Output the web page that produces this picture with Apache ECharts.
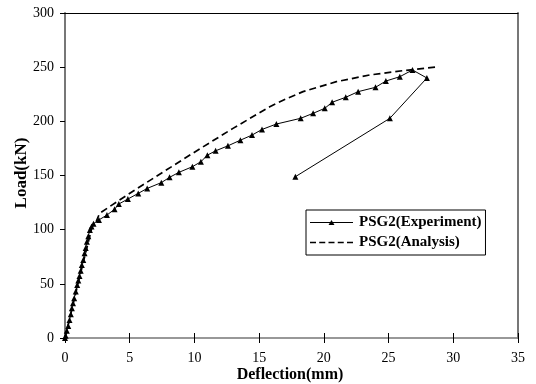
<!DOCTYPE html>
<html>
<head>
<meta charset="utf-8">
<script src="https://cdn.jsdelivr.net/npm/echarts@6/dist/echarts.min.js"></script>
<style>html,body{margin:0;padding:0;background:#fff;}#c{width:536px;height:384px;}</style>
</head>
<body>
<div id="c"></div>
<script>
var expDeflection = [0, 0.05, 0.14, 0.25, 0.35, 0.45, 0.53, 0.62, 0.71, 0.83, 0.94, 1.03, 1.12, 1.21, 1.30, 1.41, 1.51, 1.60, 1.69, 1.80, 1.92, 2.05, 2.2, 2.62, 3.24, 3.83, 4.16, 4.86, 5.66, 6.35, 7.44, 8.08, 8.8, 9.84, 10.5, 11.0, 11.64, 12.59, 13.55, 14.45, 15.22, 16.33, 18.21, 19.17, 20.07, 20.64, 21.69, 22.65, 23.99, 24.79, 25.87, 26.85, 27.96, 25.1, 17.8];
var expLoad = [0, 2, 6.8, 11, 16.6, 22, 27.4, 32, 36.6, 43, 48.9, 53, 57.2, 62, 67.4, 72, 78.2, 83, 88.9, 94, 99.7, 103, 105.5, 109, 113.5, 118.8, 123.7, 128.3, 133.5, 138.1, 143.4, 148.3, 152.9, 158.1, 162.7, 168.8, 172.8, 177.4, 182.6, 187.3, 192.5, 197.5, 202.8, 207.4, 212, 217.6, 222.2, 227.4, 231.4, 237.2, 241.2, 247.4, 240, 202.8, 148.9];
var anaDeflection = [0, 1.0, 2.1, 2.41, 2.67, 3.44, 5.25, 7.82, 10.4, 12.98, 15.82, 17.1, 18.39, 20.97, 23.55, 26.13, 28.9];
var anaLoad = [0, 50, 103, 107.4, 115, 121.2, 135.5, 155, 174.5, 193.5, 213.5, 220.8, 227.4, 236.6, 242.8, 246.8, 250.4];
var xTicks = [0, 5, 10, 15, 20, 25, 30, 35];
var yTicks = [0, 50, 100, 150, 200, 250, 300];
var seriesNames = ['PSG2(Experiment)', 'PSG2(Analysis)'];
var xTitle = 'Deflection(mm)';
var yTitle = 'Load(kN)';

function pairs(xs, ys) { return xs.map(function (x, i) { return [x, ys[i]]; }); }

var serif = 'Liberation Serif';
var iconExp = 'path://M0,4.5h43v1h-43z M18.5,7.5L21.5,2.3L24.5,7.5z';
var iconAna = 'path://M0,0h6v1.7h-6z M9.25,0h6v1.7h-6z M18.5,0h6v1.7h-6z M27.75,0h6v1.7h-6z M37,0h6v1.7h-6z';

var chart = echarts.init(document.getElementById('c'), null, {renderer: 'canvas'});
chart.setOption({
  animation: false,
  backgroundColor: '#fff',
  grid: {left: 65, right: 18, top: 13, bottom: 46},
  graphic: [{
    type: 'text', x: 290, y: 375,
    style: {text: xTitle, font: 'bold 16px "Liberation Serif"', fill: '#000', align: 'center', verticalAlign: 'middle'}
  }, {
    type: 'text', x: 22, y: 173, rotation: Math.PI / 2,
    style: {text: yTitle, font: 'bold 17px "Liberation Serif"', fill: '#000', align: 'center', verticalAlign: 'middle'}
  }],
  legend: {
    left: 306, top: 210,
    orient: 'vertical',
    padding: [5, 4],
    itemGap: 5,
    itemWidth: 43,
    itemHeight: 15,
    borderColor: '#000', borderWidth: 1,
    backgroundColor: '#fff',
    itemStyle: {color: '#000', borderWidth: 0},
    textStyle: {fontFamily: serif, fontWeight: 'bold', fontSize: 15, color: '#000', padding: [0,0,0,1]},
    data: [{name: seriesNames[0], icon: iconExp}, {name: seriesNames[1], icon: iconAna}]
  },
  xAxis: [{
    type: 'value', min: 0, max: 35, interval: 5,
    axisLine: {onZero: false, lineStyle: {color: '#777', width: 1.5}},
    axisTick: {show: true, length: 5, lineStyle: {color: '#000', width: 1}},
    axisLabel: {margin: 13, fontFamily: serif, fontSize: 14, color: '#000',
      formatter: function (v) { return xTicks.indexOf(v) >= 0 ? String(v) : ''; }},
    splitLine: {show: false}
  }, {
    type: 'value', min: 0, max: 35, interval: 5, position: 'bottom',
    axisLine: {show: false},
    axisTick: {show: true, inside: true, length: 5, lineStyle: {color: '#000', width: 1}},
    axisLabel: {show: false}, splitLine: {show: false}
  }, {
    type: 'value', min: 0, max: 35, interval: 5, position: 'top',
    axisLine: {show: true, onZero: false, lineStyle: {color: '#000', width: 1}},
    axisTick: {show: false}, axisLabel: {show: false}, splitLine: {show: false}
  }],
  yAxis: [{
    type: 'value', min: 0, max: 300, interval: 50,
    axisLine: {show: true, onZero: false, lineStyle: {color: '#777', width: 2}},
    axisTick: {show: true, length: 5, lineStyle: {color: '#000', width: 1}},
    axisLabel: {margin: 11, fontFamily: serif, fontSize: 14, color: '#000',
      formatter: function (v) { return yTicks.indexOf(v) >= 0 ? String(v) : ''; }},
    splitLine: {show: false}
  }, {
    type: 'value', min: 0, max: 300, interval: 50, position: 'right',
    axisLine: {show: true, onZero: false, lineStyle: {color: '#777', width: 2}},
    axisTick: {show: false}, axisLabel: {show: false}, splitLine: {show: false}
  }],
  series: [{
    name: seriesNames[0], type: 'line',
    data: pairs(expDeflection, expLoad),
    symbol: 'triangle', symbolSize: 6, showSymbol: true,
    itemStyle: {color: '#000'},
    lineStyle: {color: '#000', width: 1},
    z: 3
  }, {
    name: seriesNames[1], type: 'line',
    data: pairs(anaDeflection, anaLoad),
    symbol: 'none',
    itemStyle: {color: '#000'},
    lineStyle: {color: '#000', width: 1.7, type: [7, 4]},
    z: 2
  }]
});
</script>
</body>
</html>
